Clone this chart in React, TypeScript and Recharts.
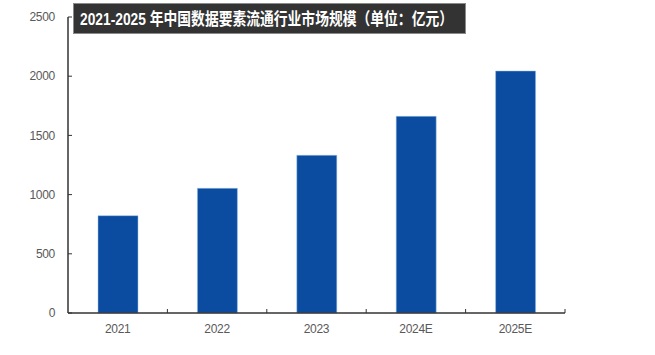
import React from 'react';
import { BarChart, Bar, XAxis, YAxis } from 'recharts';

const years = ['2021', '2022', '2023', '2024E', '2025E'];
const marketSize = [822, 1053, 1332, 1661, 2044];
const yTicks = [0, 500, 1000, 1500, 2000, 2500];
const title = '2021-2025 年中国数据要素流通行业市场规模（单位：亿元）';

const data = years.map((year, i) => ({ year, value: marketSize[i] }));

const FONT = '"Liberation Sans", Arial, "Noto Sans CJK SC", sans-serif';

// category label plus an inward tick at the right edge of each band
const XTick = (props: any) => {
  const { x, y, payload } = props;
  const edge = x + (payload.offset || 0);
  return (
    <g>
      <line x1={edge} y1={y} x2={edge} y2={y - 4} stroke="#333" strokeWidth={1} />
      <text x={x} y={y + 20} textAnchor="middle" fill="#595959" fontSize={12} fontFamily={FONT} letterSpacing={-0.3}>
        {payload.value}
      </text>
    </g>
  );
};

const App: React.FC = () => {
  return (
    <div style={{ position: 'absolute', left: 0, top: 0, width: 655, height: 355, background: '#fff' }}>
      <BarChart width={655} height={355} data={data} margin={{ top: 17, right: 90, bottom: 12, left: 0 }}>
        <XAxis
          dataKey="year"
          axisLine={{ stroke: '#333', strokeWidth: 1.5 }}
          tickLine={false}
          tickSize={0}
          tickMargin={0}
          height={30}
          interval={0}
          tick={<XTick />}
        />
        <YAxis
          width={68}
          domain={[0, 2500]}
          ticks={yTicks}
          interval={0}
          axisLine={{ stroke: '#333', strokeWidth: 1.5 }}
          tickLine={{ stroke: '#333' }}
          tickSize={-4}
          tickMargin={17}
          tick={{ fill: '#595959', fontSize: 12, fontFamily: FONT, letterSpacing: -0.3 }}
        />
        <Bar dataKey="value" fill="#0b4ca1" stroke="#9cc3ea" strokeWidth={0.5} barSize={40} isAnimationActive={false} />
      </BarChart>
      {/* title banner */}
      <svg width={580} height={36} style={{ position: 'absolute', left: 70, top: 0, pointerEvents: 'none' }}>
        <rect x={3.5} y={3.5} width={392} height={30} fill="#333333" stroke="#8a8a8a" strokeWidth={1} />
        <text
          x={10}
          y={25}
          fill="#fff"
          fontWeight="bold"
          fontSize={17}
          fontFamily={FONT}
          textLength={373}
          lengthAdjust="spacingAndGlyphs"
        >
          {title}
        </text>
      </svg>
    </div>
  );
};

export default App;
